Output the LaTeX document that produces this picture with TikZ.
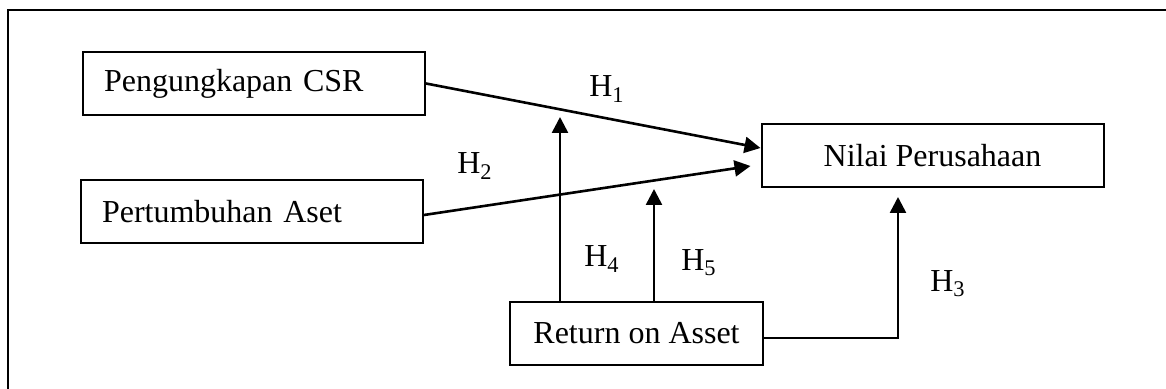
\documentclass[tikz,border=0pt]{standalone}
\usepackage{fontspec}
\setmainfont{Liberation Serif}
\usetikzlibrary{arrows.meta}
\begin{document}
\begin{tikzpicture}[x=0.5pt,y=-0.5pt,
  varbox/.style={draw,line width=1pt,minimum height=31.5pt,inner sep=0pt,font=\fontsize{16}{19}\selectfont},
  leftbox/.style={varbox,text width=150pt,inner xsep=10.5pt,align=left},
  midbox/.style={varbox,minimum width=171pt},
  hyp/.style={line width=1.3pt,-{Triangle[length=8pt,width=8pt]}},
  hlabel/.style={inner sep=0pt,font=\fontsize{16}{19}\selectfont}]
\useasboundingbox (0,0) rectangle (1166,389);
\draw[line width=1pt] (8,389) -- (8,10) -- (1166,10);
\node[leftbox] (csr) at (254,83.5) {Pengungkapan CSR};
\node[leftbox] (aset) at (252,211.5) {Pertumbuhan Aset};
\node[midbox] (nilai) at (932.5,155.5) {Nilai Perusahaan};
\node[midbox,minimum width=126.5pt] (roa) at (636.5,333.5) {Return on Asset};
\coordinate (h4end) at (560,117);
\coordinate (h5end) at (654,189);
\coordinate (h3end) at (898,197);
\draw[hyp] (csr.east) -- ([yshift=3.75pt]nilai.west);
\draw[hyp] ([yshift=-1.75pt]aset.east) -- ([xshift=-5pt,yshift=-5.25pt]nilai.west);
\draw[hyp] (roa.north -| h4end) -- (h4end);
\draw[hyp] (roa.north -| h5end) -- (h5end);
\draw[hyp] ([yshift=-2.25pt]roa.east) -| (h3end);
\node[hlabel] (h1) at (607,89) {H\textsubscript{1}};
\node[hlabel] (h2) at (475,166) {H\textsubscript{2}};
\node[hlabel] (h3) at (948,284) {H\textsubscript{3}};
\node[hlabel] (h4) at (602,259) {H\textsubscript{4}};
\node[hlabel] (h5) at (699,263) {H\textsubscript{5}};
\end{tikzpicture}
\end{document}
